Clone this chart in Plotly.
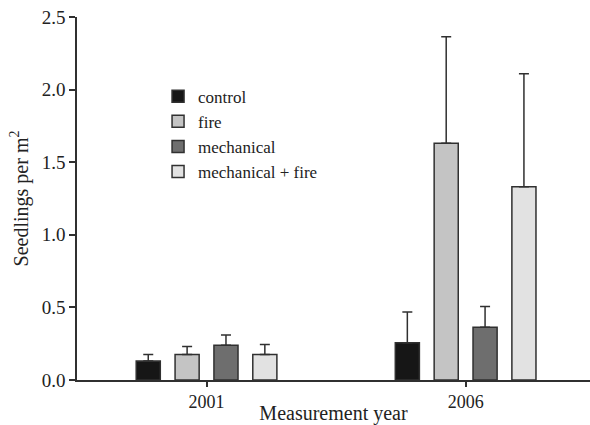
import plotly.graph_objects as go

years = ["2001", "2006"]
treatments = ["control", "fire", "mechanical", "mechanical + fire"]
means = {
    "control": [0.13, 0.257],
    "fire": [0.175, 1.63],
    "mechanical": [0.24, 0.363],
    "mechanical + fire": [0.175, 1.331],
}
errors = {
    "control": [0.045, 0.211],
    "fire": [0.055, 0.734],
    "mechanical": [0.07, 0.144],
    "mechanical + fire": [0.07, 0.779],
}
colors = {
    "control": "#161616",
    "fire": "#c4c4c4",
    "mechanical": "#6e6e6e",
    "mechanical + fire": "#e2e2e2",
}

fig = go.Figure()
for t in treatments:
    fig.add_trace(go.Bar(
        x=years, y=means[t], name=t,
        marker=dict(color=colors[t], line=dict(color="#303030", width=1.5)),
        error_y=dict(type="data", array=errors[t], arrayminus=[0] * len(years),
                     symmetric=False, color="#303030", thickness=1.5, width=5),
    ))

font_family = "Liberation Serif, Times New Roman, Times, serif"
fig.update_layout(
    width=590, height=425,
    margin=dict(l=77, r=0, t=17, b=45),
    paper_bgcolor="white", plot_bgcolor="white",
    barmode="group", bargap=0.4, bargroupgap=0.38,
    font=dict(family=font_family, size=18, color="#222"),
    legend=dict(x=0.158, y=0.83, xanchor="left", yanchor="top",
                font=dict(size=17, family=font_family, color="#222"),
                bgcolor="rgba(0,0,0,0)", tracegroupgap=0),
    showlegend=True,
)
fig.update_xaxes(
    range=[-0.5, 1.48], showline=True, linecolor="#303030", linewidth=1.5,
    ticks="outside", ticklen=5, tickcolor="#303030", tickwidth=1.5,
    title=dict(text="Measurement year", standoff=0,
               font=dict(size=20, family=font_family)),
    tickfont=dict(size=18, family=font_family), showgrid=False, zeroline=False,
)
fig.update_yaxes(
    range=[0, 2.5], dtick=0.5, tickformat=".1f", showline=True,
    linecolor="#303030", linewidth=1.5, ticks="outside", ticklen=6,
    tickcolor="#303030", tickwidth=1.5, showgrid=False, zeroline=False,
    title=dict(text="Seedlings per m<sup>2</sup>", standoff=8,
               font=dict(size=20, family=font_family)),
    tickfont=dict(size=19, family=font_family),
)
fig.write_html("out.html")
